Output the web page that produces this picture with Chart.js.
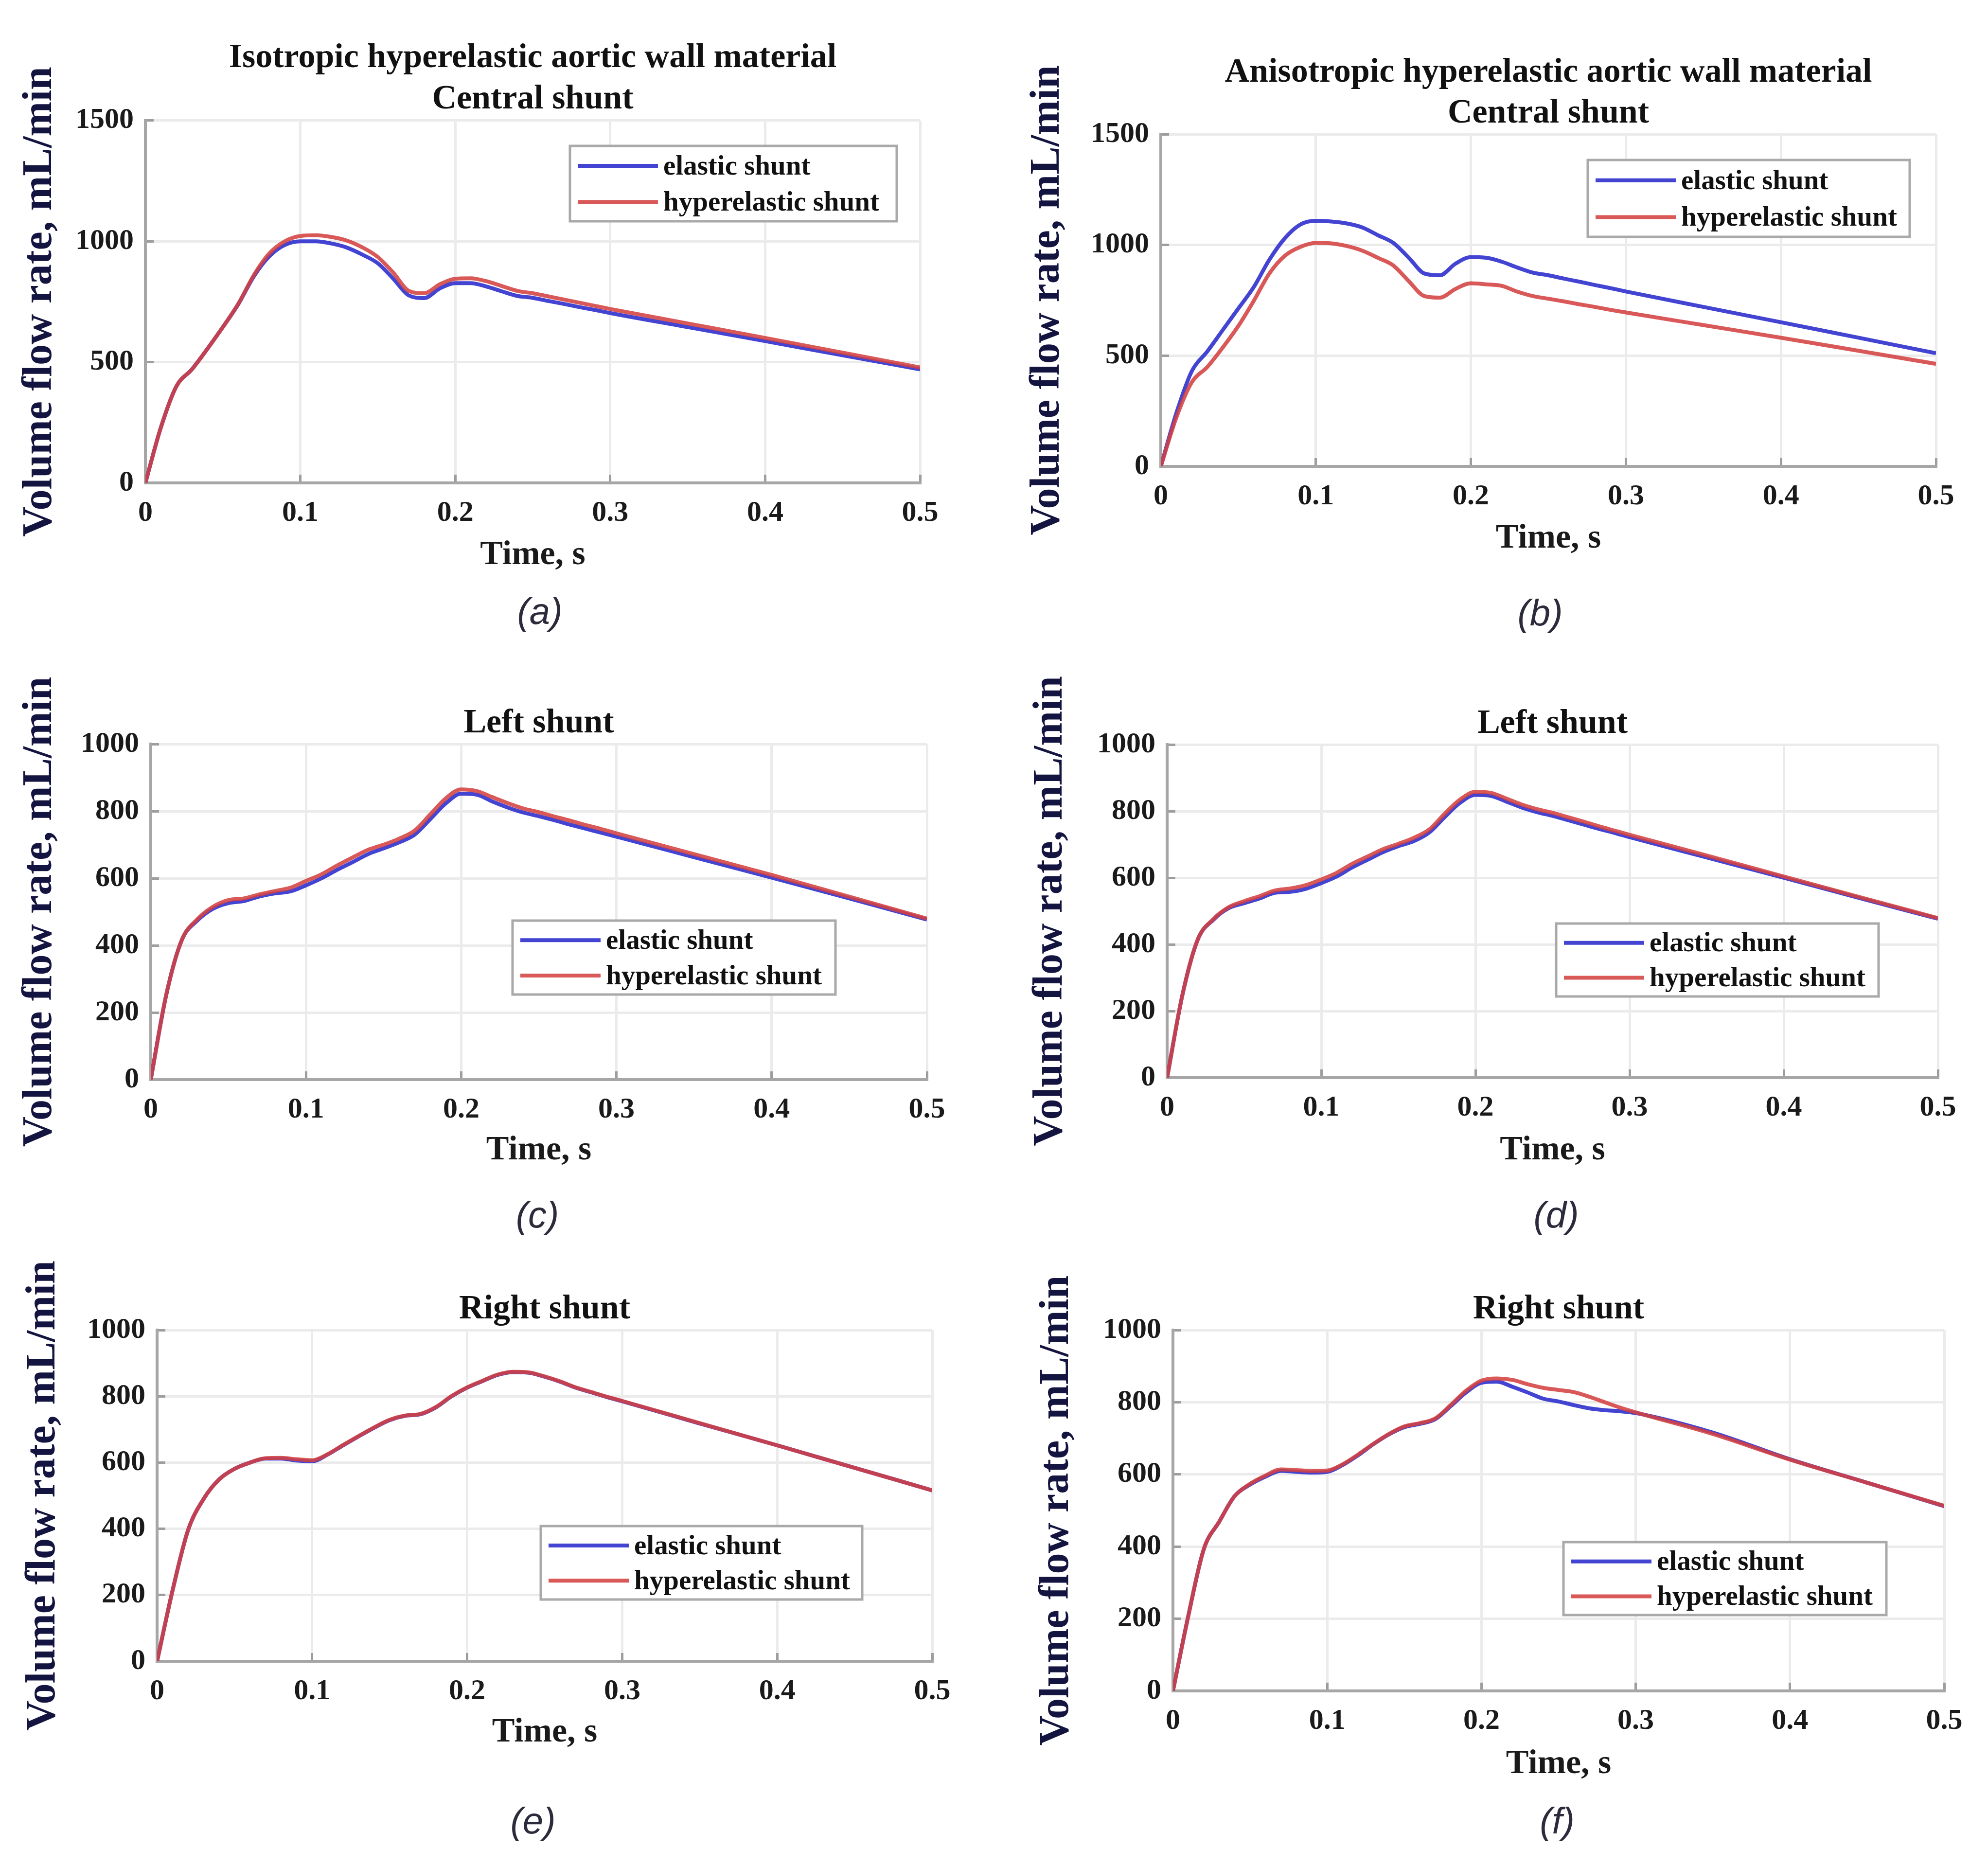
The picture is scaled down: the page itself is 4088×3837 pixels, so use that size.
<!DOCTYPE html>
<html>
<head>
<meta charset="utf-8">
<script src="https://cdn.jsdelivr.net/npm/chart.js@4.4.1/dist/chart.umd.min.js"></script>
<style>
    html, body { margin: 0; padding: 0; background: #fff; }
    body { width: 4088px; height: 3837px; position: relative; overflow: hidden; }
    canvas { position: absolute; }
    .tag {
        position: absolute;
        font-family: "Liberation Sans", sans-serif;
        font-style: italic;
        font-size: 76px;
        line-height: 1;
        color: #2b2b3b;
        transform: translate(-50%, -50%);
    }
</style>
</head>
<body>
<script>
    "use strict";

    // Time axis shared by all panels, s
    var time = [0, 0.01, 0.02, 0.03, 0.04, 0.05, 0.06, 0.07, 0.08, 0.09,
                0.10, 0.11, 0.12, 0.13, 0.14, 0.15, 0.16, 0.17, 0.18, 0.19,
                0.20, 0.21, 0.22, 0.23, 0.24, 0.25, 0.26, 0.27, 0.28, 0.29,
                0.30, 0.35, 0.40, 0.45, 0.50];

    var seriesNames = ["elastic shunt", "hyperelastic shunt"];

    // Volume flow rate, mL/min
    var aElastic = [0, 230, 400, 470, 555, 645, 740, 855, 938, 985, 1000, 1000, 991, 974, 945, 909, 845, 776, 765, 805, 827, 827, 813, 793, 774, 766, 753, 741, 728, 716, 703, 645, 587, 528, 470];
    var aHyper   = [0, 230, 400, 470, 555, 645, 742, 860, 950, 1000, 1022, 1025, 1018, 1003, 975, 935, 870, 795, 785, 822, 845, 847, 835, 815, 795, 785, 772, 759, 746, 733, 720, 660, 600, 539, 478];

    var bElastic = [0, 240, 430, 519, 616, 713, 810, 933, 1030, 1092, 1109, 1106, 1097, 1079, 1044, 1009, 942, 871, 863, 915, 945, 942, 924, 898, 875, 863, 848, 834, 819, 805, 790, 720, 651, 581, 511];
    var bHyper   = [0, 220, 380, 449, 537, 634, 748, 871, 951, 991, 1009, 1007, 995, 974, 942, 907, 836, 769, 762, 801, 827, 822, 815, 789, 769, 757, 745, 732, 720, 707, 695, 638, 581, 522, 463];

    var cElastic = [0, 253, 416, 474, 509, 526, 532, 546, 555, 561, 579, 600, 625, 648, 672, 689, 707, 730, 776, 823, 852, 849, 829, 811, 796, 785, 773, 760, 748, 736, 724, 663, 602, 540, 477];
    var cHyper   = [0, 253, 416, 478, 515, 535, 540, 552, 562, 572, 592, 612, 638, 662, 685, 700, 718, 742, 790, 838, 865, 860, 842, 824, 808, 797, 784, 772, 759, 747, 734, 672, 610, 545, 480];

    var dElastic = [0, 250, 416, 474, 509, 524, 538, 555, 558, 567, 584, 604, 631, 654, 677, 695, 710, 736, 782, 825, 849, 846, 829, 811, 797, 786, 773, 760, 747, 735, 722, 661, 600, 538, 477];
    var dHyper   = [0, 250, 416, 476, 512, 530, 545, 562, 568, 578, 595, 615, 642, 664, 686, 702, 720, 745, 792, 835, 858, 855, 838, 820, 806, 795, 782, 769, 755, 742, 729, 667, 604, 541, 479];

    var eElastic = [0, 214, 396, 490, 549, 581, 600, 612, 612, 606, 604, 624, 652, 679, 705, 728, 741, 746, 767, 800, 826, 846, 865, 873, 871, 859, 844, 826, 812, 798, 785, 718, 652, 584, 516];
    var eHyper   = [0, 214, 396, 490, 549, 581, 600, 613, 614, 610, 607, 625, 653, 680, 706, 729, 742, 747, 768, 801, 827, 847, 866, 874, 872, 860, 845, 827, 813, 799, 786, 719, 652, 584, 516];

    var fElastic = [0, 209, 393, 469, 540, 572, 594, 610, 607, 605, 607, 626, 653, 684, 711, 731, 740, 753, 789, 827, 854, 857, 843, 827, 810, 802, 792, 783, 778, 775, 770, 716, 642, 577, 512];
    var fHyper   = [0, 209, 393, 469, 540, 574, 597, 614, 612, 610, 611, 628, 655, 685, 712, 733, 742, 755, 792, 832, 860, 866, 862, 850, 840, 834, 828, 815, 800, 785, 772, 712, 641, 577, 513];

    // Tick labels
    var xTicks = [0, 0.1, 0.2, 0.3, 0.4, 0.5];
    var yTicksCentral = [0, 500, 1000, 1500];
    var yTicksSide = [0, 200, 400, 600, 800, 1000];

    var xTitle = "Time, s";
    var yTitle = "Volume flow rate, mL/min";

    // Panel layout (page pixels): canvas box, plot area, legend box, caption spot
    var panels = [
        { tag: "(a)", title: ["Isotropic hyperelastic aortic wall material", "Central shunt"], el: aElastic, hy: aHyper, yTicks: yTicksCentral,
          box: [0, 0, 2030, 1190], plot: [299, 248, 1892, 993], titleLH: 1.22, titlePad: 77, xTitleY: 1142, yTitleX: 83,
          legend: [1172, 300, 1844, 455], tagAt: [1110, 1257] },
        { tag: "(b)", title: ["Anisotropic hyperelastic aortic wall material", "Central shunt"], el: bElastic, hy: bHyper, yTicks: yTicksCentral,
          box: [2030, 0, 2058, 1160], plot: [2387, 277, 3981, 959], titleLH: 1.2, titlePad: 108, xTitleY: 1108, yTitleX: 2155,
          legend: [3265, 329, 3927, 487], tagAt: [3167, 1260] },
        { tag: "(c)", title: ["Left shunt"], el: cElastic, hy: cHyper, yTicks: yTicksSide,
          box: [0, 1360, 2030, 1054], plot: [310, 1530, 1906, 2220], titleLH: 1.2, titlePad: 86, xTitleY: 2366, yTitleX: 83,
          legend: [1054, 1893, 1718, 2045], tagAt: [1105, 2498] },
        { tag: "(d)", title: ["Left shunt"], el: dElastic, hy: dHyper, yTicks: yTicksSide,
          box: [2030, 1360, 2058, 1054], plot: [2400, 1531, 3985, 2216], titleLH: 1.2, titlePad: 87, xTitleY: 2366, yTitleX: 2161,
          legend: [3200, 1899, 3863, 2049], tagAt: [3200, 2498] },
        { tag: "(e)", title: ["Right shunt"], el: eElastic, hy: eHyper, yTicks: yTicksSide,
          box: [0, 2560, 2030, 1051], plot: [323, 2735, 1917, 3416], titleLH: 1.2, titlePad: 91, xTitleY: 3563, yTitleX: 90,
          legend: [1112, 3138, 1773, 3289], tagAt: [1096, 3744] },
        { tag: "(f)", title: ["Right shunt"], el: fElastic, hy: fHyper, yTicks: yTicksSide,
          box: [2030, 2560, 2058, 1116], plot: [2412, 2735, 3998, 3477], titleLH: 1.2, titlePad: 91, xTitleY: 3628, yTitleX: 2174,
          legend: [3215, 3171, 3879, 3321], tagAt: [3202, 3744] }
    ];

    var serif = '"Liberation Serif", "Times New Roman", serif';
    var blue = "rgba(58, 58, 208, 0.95)";
    var red = "rgba(212, 66, 66, 0.88)";

    function toPoints(values) {
        return values.map(function (v, i) {
            return { x: time[i], y: v };
        });
    }

    // Boxed legend placed inside the axes, MATLAB style
    var boxLegend = {
        id: "boxLegend",
        afterDatasetsDraw: function (chart, args, opts) {
            var ctx = chart.ctx;
            var x = opts.left, y = opts.top, w = opts.width, h = opts.height;
            ctx.save();
            ctx.fillStyle = "#fff";
            ctx.fillRect(x, y, w, h);
            ctx.lineWidth = 5;
            ctx.strokeStyle = "#a9a9a9";
            ctx.strokeRect(x, y, w, h);
            ctx.font = "bold 57px " + serif;
            ctx.textBaseline = "middle";
            ctx.textAlign = "left";
            chart.data.datasets.forEach(function (ds, i) {
                var ry = y + h * 0.265 + i * h * 0.478;
                ctx.strokeStyle = ds.borderColor;
                ctx.lineWidth = 8;
                ctx.beginPath();
                ctx.moveTo(x + 16, ry);
                ctx.lineTo(x + 181, ry);
                ctx.stroke();
                ctx.fillStyle = "#111";
                ctx.fillText(ds.label, x + 192, ry + 3);
            });
            ctx.restore();
        }
    };

    panels.forEach(function (p) {
        var cx = p.box[0], cy = p.box[1], cw = p.box[2], ch = p.box[3];
        var canvas = document.createElement("canvas");
        canvas.width = cw;
        canvas.height = ch;
        canvas.style.left = cx + "px";
        canvas.style.top = cy + "px";
        canvas.style.width = cw + "px";
        canvas.style.height = ch + "px";
        document.body.appendChild(canvas);

        var yW = p.plot[0] - cx;
        var padRight = cx + cw - p.plot[2];
        var xH = (p.xTitleY - p.plot[3]) + 42;
        var padBottom = cy + ch - p.plot[3] - xH;
        var yTicks = p.yTicks;

        new Chart(canvas, {
            type: "line",
            data: {
                datasets: [{
                    label: seriesNames[0],
                    data: toPoints(p.el),
                    borderColor: blue,
                    borderWidth: 8,
                    pointRadius: 0,
                    cubicInterpolationMode: "monotone",
                    order: 1
                }, {
                    label: seriesNames[1],
                    data: toPoints(p.hy),
                    borderColor: red,
                    borderWidth: 8,
                    pointRadius: 0,
                    cubicInterpolationMode: "monotone",
                    order: 0
                }]
            },
            options: {
                responsive: false,
                animation: false,
                devicePixelRatio: 1,
                layout: {
                    padding: { left: 0, top: 0, right: padRight, bottom: padBottom }
                },
                plugins: {
                    legend: { display: false },
                    tooltip: { enabled: false },
                    title: {
                        display: true,
                        text: p.title,
                        fullSize: false,
                        color: "#111",
                        font: { family: serif, size: 70, weight: "bold", lineHeight: p.titleLH },
                        padding: { top: p.titlePad, bottom: 0 }
                    },
                    boxLegend: {
                        left: p.legend[0] - cx,
                        top: p.legend[1] - cy,
                        width: p.legend[2] - p.legend[0],
                        height: p.legend[3] - p.legend[1]
                    }
                },
                scales: {
                    x: {
                        type: "linear",
                        min: xTicks[0],
                        max: xTicks[xTicks.length - 1],
                        afterBuildTicks: function (scale) {
                            scale.ticks = xTicks.map(function (v) { return { value: v }; });
                        },
                        afterFit: function (scale) { scale.height = xH; },
                        grid: { color: "#ebebeb", lineWidth: 5, tickLength: -17, tickColor: "#9d9d9d", tickWidth: 5 },
                        border: { color: "#a6a6a6", width: 6 },
                        ticks: {
                            font: { family: serif, size: 60, weight: "bold" },
                            color: "#1a1a1a",
                            padding: 43,
                            maxRotation: 0,
                            autoSkip: false,
                            callback: function (v) { return String(v); }
                        },
                        title: {
                            display: true,
                            text: xTitle,
                            color: "#1a1a1a",
                            font: { family: serif, size: 70, weight: "bold", lineHeight: 1.2 },
                            padding: 0
                        }
                    },
                    y: {
                        type: "linear",
                        min: yTicks[0],
                        max: yTicks[yTicks.length - 1],
                        afterBuildTicks: function (scale) {
                            scale.ticks = yTicks.map(function (v) { return { value: v }; });
                        },
                        afterFit: function (scale) { scale.width = yW; },
                        grid: { color: "#ebebeb", lineWidth: 5, tickLength: -17, tickColor: "#9d9d9d", tickWidth: 5 },
                        border: { color: "#a6a6a6", width: 6 },
                        ticks: {
                            font: { family: serif, size: 60, weight: "bold" },
                            color: "#1a1a1a",
                            padding: 41,
                            autoSkip: false,
                            callback: function (v) { return String(v); }
                        },
                        title: {
                            display: true,
                            text: yTitle,
                            color: "#141440",
                            font: { family: serif, size: 86, weight: "bold", lineHeight: 1.2 },
                            padding: { top: p.yTitleX - cx - 52, bottom: 0 }
                        }
                    }
                }
            },
            plugins: [boxLegend]
        });

        var tag = document.createElement("div");
        tag.className = "tag";
        tag.textContent = p.tag;
        tag.style.left = p.tagAt[0] + "px";
        tag.style.top = p.tagAt[1] + "px";
        document.body.appendChild(tag);
    });
</script>
</body>
</html>
